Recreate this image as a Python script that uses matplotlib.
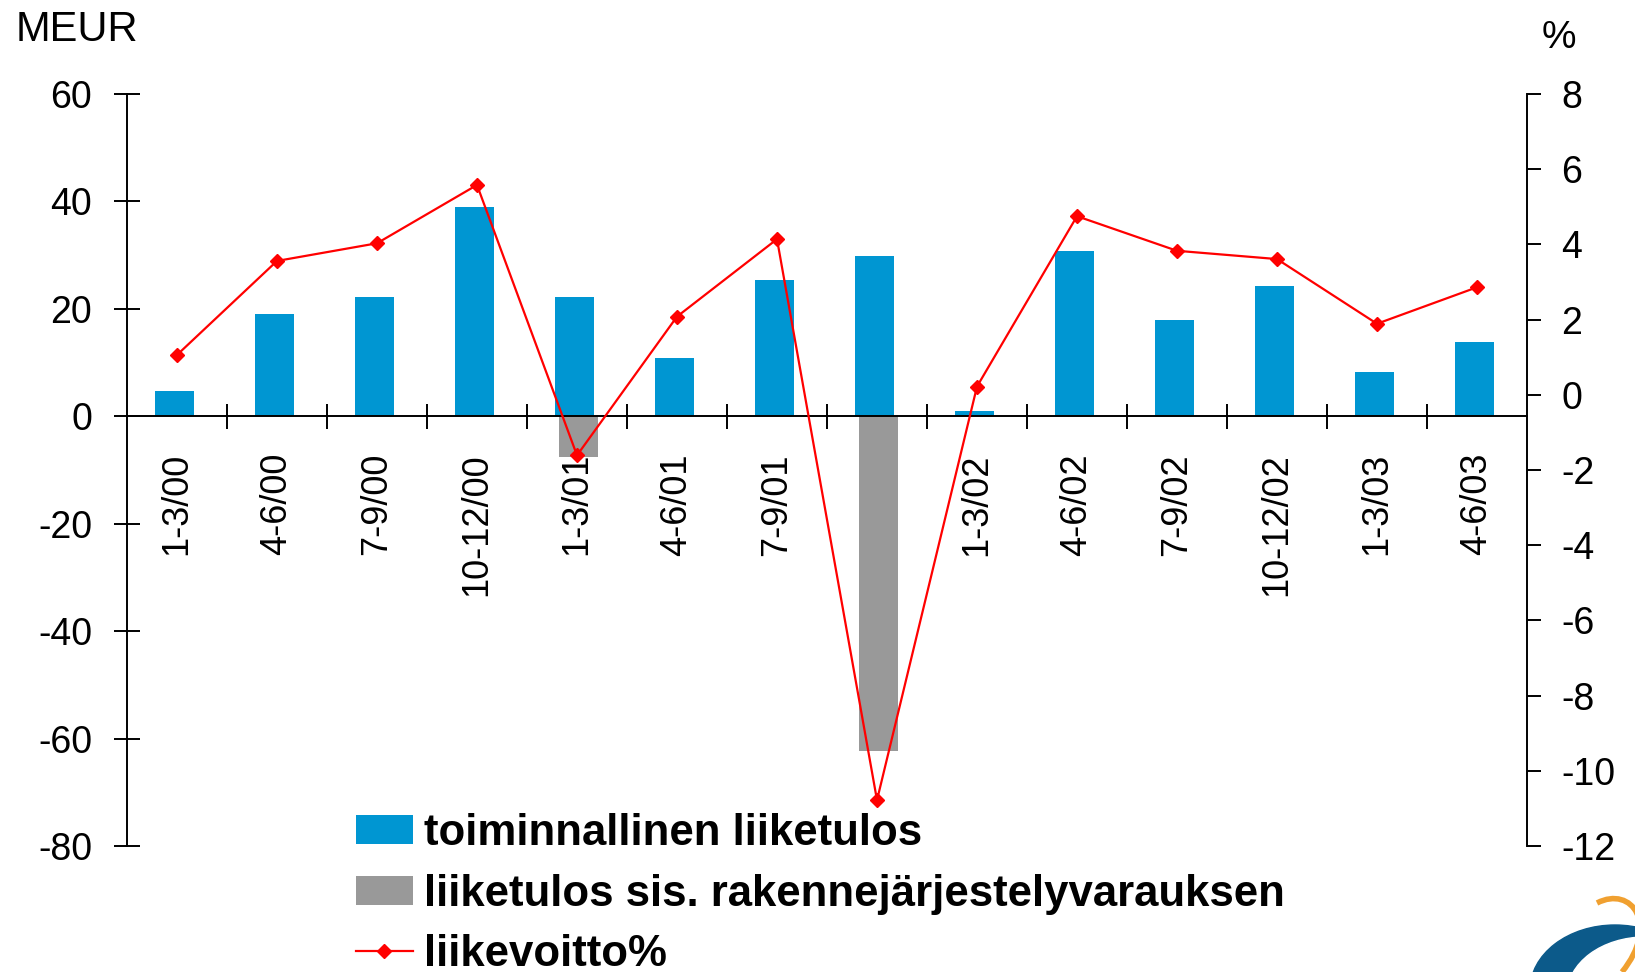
import numpy as np
import matplotlib
matplotlib.use('Agg')
import matplotlib.pyplot as plt
from matplotlib.patches import Ellipse, PathPatch
from matplotlib.path import Path

plt.rcParams['font.family'] = ['Liberation Sans', 'DejaVu Sans']
plt.rcParams['axes.unicode_minus'] = False

quarters = ['1-3/00', '4-6/00', '7-9/00', '10-12/00', '1-3/01', '4-6/01', '7-9/01',
            '10-12/01', '1-3/02', '4-6/02', '7-9/02', '10-12/02', '1-3/03', '4-6/03']
# toiminnallinen liiketulos, MEUR
operating = [4.7, 19.0, 22.3, 39.0, 22.3, 10.9, 25.4, 29.9, 1.0, 30.7, 17.9, 24.3, 8.3, 13.8]
# liiketulos incl. restructuring provisions, MEUR (only two quarters)
restructured_idx = [4, 7]
restructured = [-7.6, -62.3]
# liikevoitto %
margin = [1.06, 3.56, 4.03, 5.58, -1.61, 2.08, 4.14, -10.78, 0.22, 4.75, 3.83, 3.61, 1.89, 2.86]

blue = '#0096D2'
grey = '#999999'
red = '#FF0000'

W, H = 1635, 972
fig = plt.figure(figsize=(W / 100, H / 100), dpi=100)
ax = fig.add_axes([127 / W, (H - 846) / H, 1400 / W, (846 - 94) / H])

x = np.arange(len(quarters))
b1 = ax.bar(x - 0.025, operating, width=0.39, color=blue, zorder=2,
            label='toiminnallinen liiketulos')
b2 = ax.bar(np.array(restructured_idx) + 0.015, restructured, width=0.39, color=grey,
            zorder=2, label='liiketulos sis. rakennejärjestelyvarauksen')

ax.set_xlim(-0.5, len(quarters) - 0.5)
ax.set_ylim(-80, 60)

ax.spines['top'].set_visible(False)
ax.spines['right'].set_visible(False)
ax.spines['bottom'].set_position(('data', 0))
for s in ['left', 'bottom']:
    ax.spines[s].set_linewidth(1.4)
    ax.spines[s].set_zorder(3)

ax.tick_params(axis='y', direction='inout', length=19.4, width=1.4, pad=15.5, labelsize=27)
ax.tick_params(axis='x', which='major', length=0, pad=26.5, labelsize=26)
ax.tick_params(axis='x', which='minor', direction='inout', length=18, width=1.4)

ax.set_yticks(np.arange(-80, 61, 20))
ax.set_xticks(x)
ax.set_xticks(np.arange(0.5, len(quarters) - 1, 1), minor=True)
ax.set_xticklabels(quarters, rotation=90, va='top', ha='center')

ax2 = ax.twinx()
ax2.set_ylim(-12, 8)
for s in ['top', 'bottom', 'left']:
    ax2.spines[s].set_visible(False)
ax2.spines['right'].set_linewidth(1.4)
ax2.tick_params(axis='y', direction='out', length=10, width=1.4, pad=14.5, labelsize=27)
ax2.set_yticks(np.arange(-12, 9, 2))
ln, = ax2.plot(x, margin, color=red, lw=1.6, marker='D', ms=7.5, zorder=4,
               label='liikevoitto%')

fig.text(16 / W, 1 - 10 / H, 'MEUR', fontsize=30, va='top', ha='left')
fig.text(1542 / W, 1 - 20 / H, '%', fontsize=28, va='top', ha='left')

fig.legend(handles=[b1, b2, ln], loc='upper left',
           bbox_to_anchor=(356 / W, 1 - 813 / H), bbox_transform=fig.transFigure,
           frameon=False, borderpad=0, borderaxespad=0,
           prop={'size': 31.5, 'weight': 'bold'},
           handlelength=1.3, handleheight=0.64, handletextpad=0.25,
           labelspacing=0.45, numpoints=1)

# logo fragment in the bottom right corner
lax = fig.add_axes([0, 0, 1, 1], zorder=-1)
lax.set_xlim(0, W)
lax.set_ylim(H, 0)
lax.axis('off')
lax.add_patch(Ellipse((1615, 990), 170, 130, color='#0C5A8A'))
lax.add_patch(Ellipse((1645, 995), 156, 116, color='white'))
swoosh = Path([(1597, 903), (1632, 885), (1660, 925), (1622, 972)],
              [Path.MOVETO, Path.CURVE4, Path.CURVE4, Path.CURVE4])
lax.add_patch(PathPatch(swoosh, fill=False, edgecolor='#F0A030', lw=4))

fig.savefig('out.png', dpi=100)
